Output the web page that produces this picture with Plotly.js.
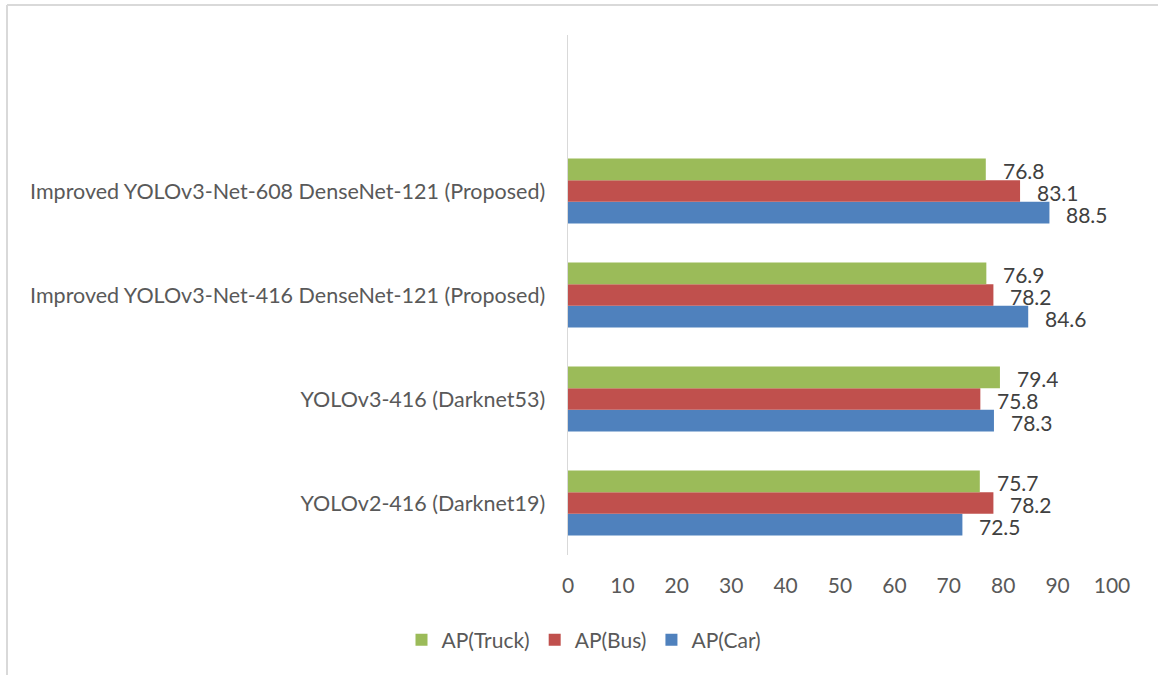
<!DOCTYPE html>
<html>
<head>
<meta charset="utf-8">
<script src="https://cdn.plot.ly/plotly-3.0.1.min.js"></script>
<style>
  html, body { margin: 0; padding: 0; background: #ffffff; }
  #chart { width: 1158px; height: 675px; }
</style>
</head>
<body>
<div id="chart"></div>
<script>
// Detectors, listed bottom to top on the category axis
const models = [
  "YOLOv2-416 (Darknet19)",
  "YOLOv3-416 (Darknet53)",
  "Improved YOLOv3-Net-416 DenseNet-121 (Proposed)",
  "Improved YOLOv3-Net-608 DenseNet-121 (Proposed)"
];

// Average precision per vehicle class
const apCar   = [72.5, 78.3, 84.6, 88.5];
const apBus   = [78.2, 75.8, 78.2, 83.1];
const apTruck = [75.7, 79.4, 76.9, 76.8];

const seriesNames  = ["AP(Car)", "AP(Bus)", "AP(Truck)"];
const seriesValues = [apCar, apBus, apTruck];
const seriesColors = ["#4F81BD", "#C0504D", "#9BBB59"];

const xTicks = [0, 10, 20, 30, 40, 50, 60, 70, 80, 90, 100];

const FONT = "Lato, 'Open Sans', sans-serif";

// Plot area: x 568..1112 px, y 35..555 px
const L = 568, R = 1158 - 1112, T = 35, B = 675 - 555;
const W = 1158 - L - R, H = 675 - T - B;
const px = x => (x - L) / W;
const py = y => (675 - B - y) / H;

const BARGAP = 0.375;
const catSpan = H / 5;                                   // 5 category slots on the axis range
const barThick = catSpan * (1 - BARGAP) / seriesNames.length;

const traces = seriesNames.map((name, i) => ({
  type: "bar",
  orientation: "h",
  name: name,
  y: models,
  x: seriesValues[i],
  marker: { color: seriesColors[i], line: { width: 0 } },
  hoverinfo: "x+name"
}));

// Value labels just past the end of each bar
const annotations = [];
seriesValues.forEach((vals, i) => {
  vals.forEach((v, j) => {
    annotations.push({
      xref: "x", yref: "y",
      x: v, y: models[j],
      text: v.toFixed(1),
      showarrow: false,
      xanchor: "left",
      yanchor: "middle",
      height: 20,
      valign: "middle",
      borderpad: 0,
      xshift: 16,
      yshift: (i - 1) * barThick - 1,
      font: { family: FONT, size: 21, color: "#404040" }
    });
  });
});

const layout = {
  width: 1158,
  height: 675,
  margin: { l: L, r: R, t: T, b: B, pad: 0 },
  paper_bgcolor: "#ffffff",
  plot_bgcolor: "#ffffff",
  font: { family: FONT, size: 21, color: "#595959" },
  barmode: "group",
  bargap: BARGAP,
  bargroupgap: 0,
  showlegend: true,
  legend: {
    orientation: "h",
    traceorder: "reversed",
    x: px(584),
    xanchor: "center",
    y: py(640),
    yanchor: "middle",
    font: { family: FONT, size: 21, color: "#595959" },
    itemwidth: 30,
    tracegroupgap: 0,
    bgcolor: "rgba(0,0,0,0)"
  },
  xaxis: {
    range: [0, 100],
    tickvals: xTicks,
    ticktext: xTicks.map(String),
    showgrid: false,
    zeroline: false,
    showline: false,
    ticks: "",
    ticklabelstandoff: 16,
    tickfont: { family: FONT, size: 21, color: "#595959" },
    fixedrange: true
  },
  yaxis: {
    type: "category",
    categoryorder: "array",
    categoryarray: models,
    range: [-0.5, 4.5],
    showgrid: false,
    zeroline: false,
    showline: true,
    linecolor: "#D9D9D9",
    linewidth: 1.5,
    ticks: "",
    ticklabelstandoff: 17,
    tickfont: { family: FONT, size: 21.5, color: "#595959" },
    fixedrange: true
  },
  annotations: annotations,
  shapes: [
    // chart frame: top and left edges
    { type: "line", xref: "paper", yref: "paper",
      x0: px(7), x1: px(1158), y0: py(5), y1: py(5),
      line: { color: "#D9D9D9", width: 2 } },
    { type: "line", xref: "paper", yref: "paper",
      x0: px(7), x1: px(7), y0: py(5), y1: py(675),
      line: { color: "#D9D9D9", width: 2 } }
  ]
};

Plotly.newPlot("chart", traces, layout, { displayModeBar: false, staticPlot: true });
</script>
</body>
</html>
